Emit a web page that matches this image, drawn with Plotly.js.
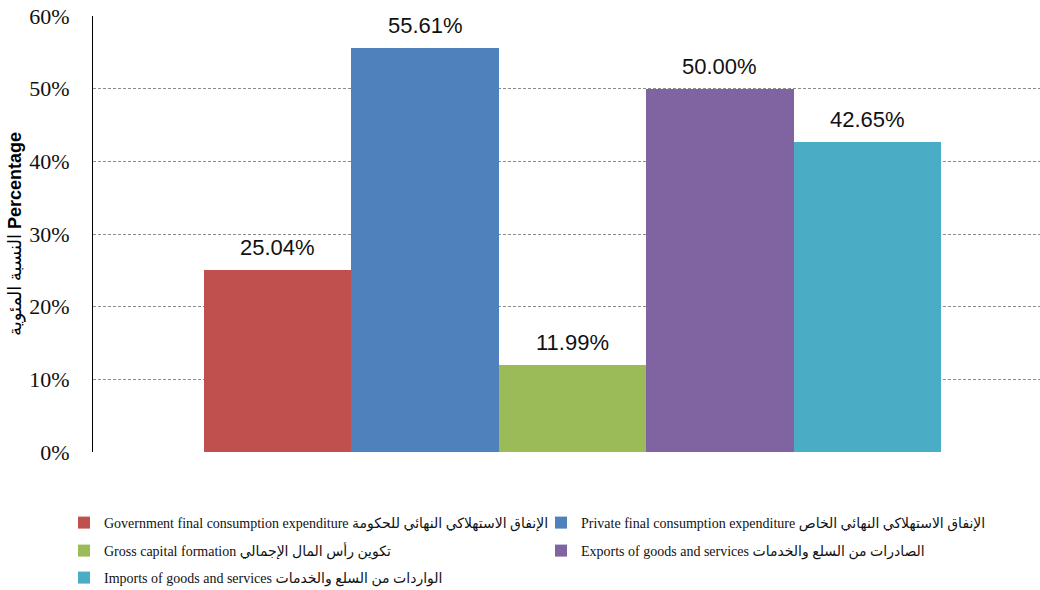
<!DOCTYPE html>
<html>
<head>
<meta charset="utf-8">
<script src="https://cdn.plot.ly/plotly-3.0.1.min.js"></script>
<style>html,body{margin:0;padding:0;background:#fff;}#chart{width:1040px;height:590px;}</style>
</head>
<body>
<div id="chart"></div>
<script>
var seriesNames = [
  "Government final consumption expenditure الإنفاق الاستهلاكي النهائي للحكومة",
  "Private final consumption expenditure الإنفاق الاستهلاكي النهائي الخاص",
  "Gross capital formation تكوين رأس المال الإجمالي",
  "Exports of goods and services الصادرات من السلع والخدمات",
  "Imports of goods and services الواردات من السلع والخدمات"
];
var seriesKeys = ["gov", "priv", "gcf", "exp", "imp"];
var seriesValues = [25.04, 55.61, 11.99, 50.00, 42.65];
var seriesColors = ["#C0504D", "#4F81BD", "#9BBB59", "#8064A2", "#4BACC6"];
var legendIds = ["legend", "legend2", "legend3", "legend4", "legend5"];
var yTickVals = [0, 10, 20, 30, 40, 50, 60];

var traces = seriesValues.map(function (v, i) {
  return {
    type: "bar",
    name: seriesNames[i],
    x: [seriesKeys[i]],
    y: [v],
    marker: { color: seriesColors[i], line: { width: 0 } },
    legend: legendIds[i],
    hoverinfo: "none"
  };
});

var annotations = seriesValues.map(function (v, i) {
  return {
    x: seriesKeys[i], y: v, xref: "x", yref: "y",
    text: v.toFixed(2) + "%",
    showarrow: false, yanchor: "bottom", yshift: 8,
    font: { family: "Liberation Sans, Arial, sans-serif", size: 22, color: "#111" }
  };
});

var legendFont = { family: "Liberation Serif, Times New Roman, DejaVu Sans, serif", size: 14, color: "#111" };
function mkLegend(xPix, yPix) {
  return {
    orientation: "h", xref: "container", yref: "container",
    x: xPix / 1040, xanchor: "left", y: 1 - yPix / 590, yanchor: "middle",
    font: legendFont, itemwidth: 30, bgcolor: "rgba(0,0,0,0)", borderwidth: 0,
    itemclick: false, itemdoubleclick: false
  };
}

var layout = {
  width: 1040, height: 590,
  margin: { l: 93, r: 0, t: 16, b: 138 },
  paper_bgcolor: "#fff", plot_bgcolor: "#fff",
  barmode: "overlay", bargap: 0,
  showlegend: true,
  xaxis: {
    type: "category", categoryorder: "array", categoryarray: seriesKeys,
    range: [-1.253, 5.172], showticklabels: false, showgrid: false,
    zeroline: false, showline: false, ticks: "", fixedrange: true
  },
  yaxis: {
    range: [0, 60], tickvals: yTickVals, ticktext: yTickVals.map(function (t) { return t + "%"; }),
    showgrid: true, gridcolor: "#8c8c8c", griddash: "3px,2px", gridwidth: 1,
    zeroline: false, showline: true, linecolor: "#000", linewidth: 1,
    ticks: "", ticklabelstandoff: 18,
    tickfont: { family: "Liberation Serif, Times New Roman, serif", size: 22, color: "#111" },
    title: {
      text: "<span style=\"font-family:'Liberation Serif','DejaVu Sans',serif;font-weight:normal\">النسبة المئوية</span> <b>Percentage</b>",
      font: { family: "Liberation Sans, Arial, sans-serif", size: 18, color: "#000" },
      standoff: 2
    },
    automargin: false, fixedrange: true
  },
  legend: mkLegend(64, 523),
  legend2: mkLegend(541, 523),
  legend3: mkLegend(64, 551),
  legend4: mkLegend(541, 551),
  legend5: mkLegend(64, 578),
  annotations: annotations
};

Plotly.newPlot("chart", traces, layout, { displayModeBar: false, staticPlot: true });
</script>
</body>
</html>
